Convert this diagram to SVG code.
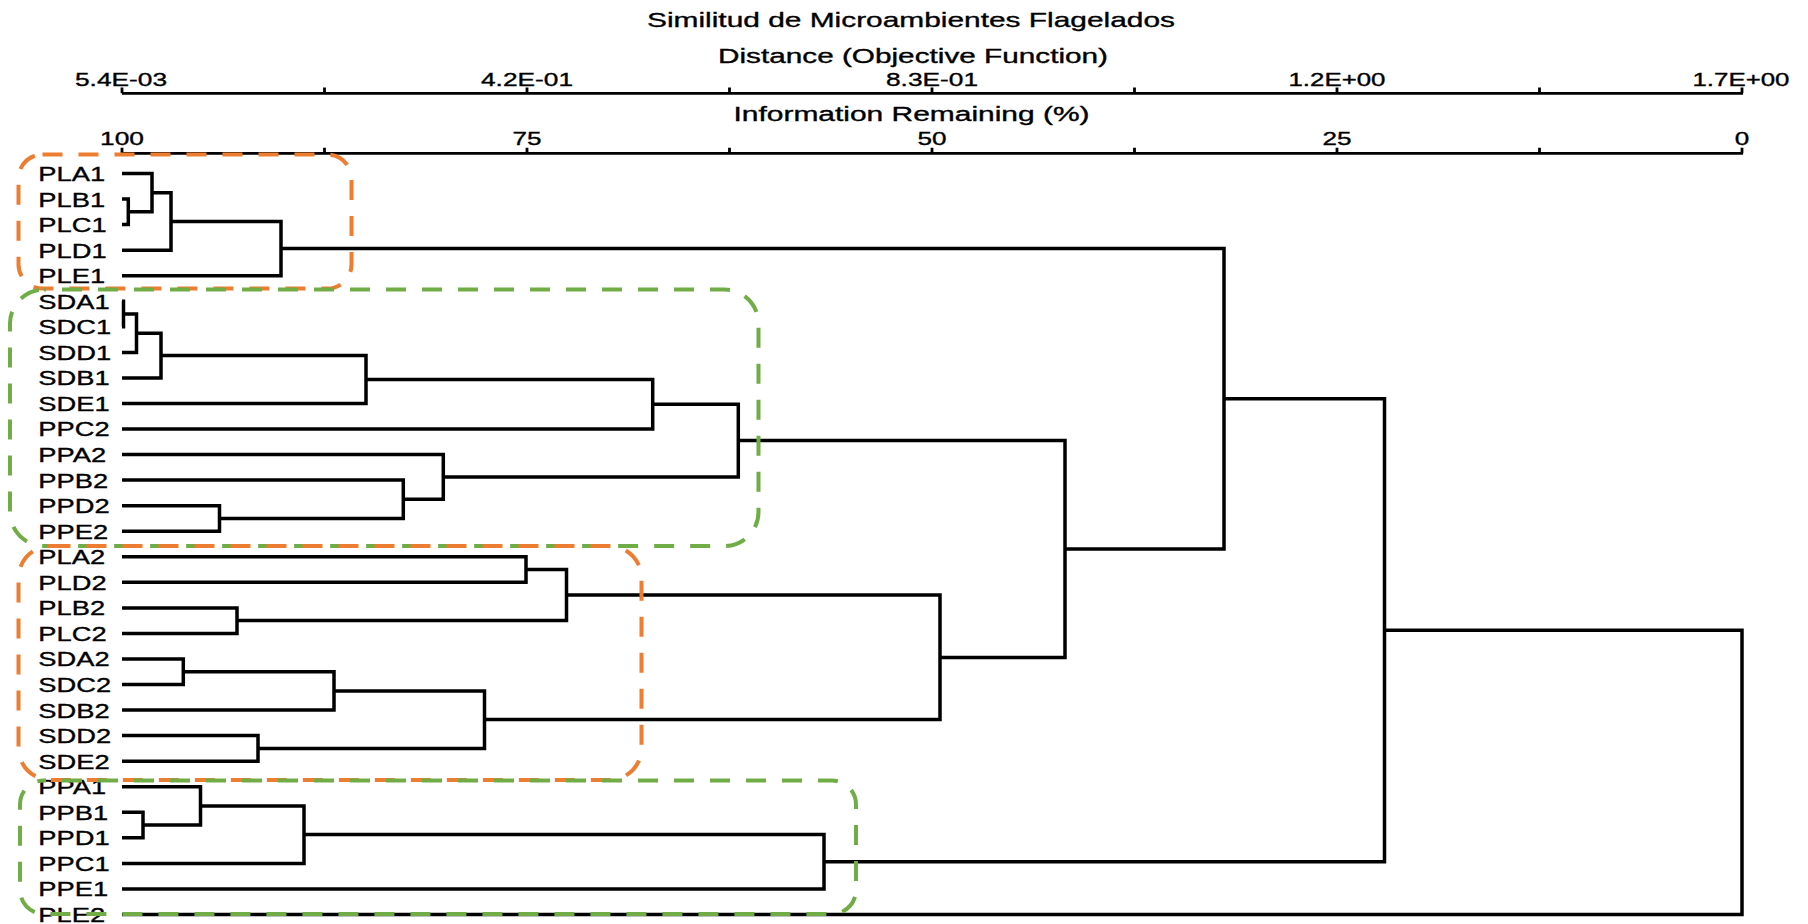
<svg xmlns="http://www.w3.org/2000/svg" width="1808" height="924" viewBox="0 0 1808 924">
<style>
text{font-family:"Liberation Sans",Arial,sans-serif;fill:#000;stroke:#000;stroke-width:0.35}
.title{font-size:21px}
.axt{font-size:20px}
.tl{font-size:19px}
.leaf{font-size:21px}
.ax{fill:none;stroke:#000;stroke-width:2.8}
.br{fill:none;stroke:#000;stroke-width:3.5;stroke-linejoin:miter}
.box{fill:none;stroke-width:4;stroke-dasharray:20 16}
.or{stroke:#ED7D31}
.gr{stroke:#70AD47}
</style>
<rect width="1808" height="924" fill="#fff"/>
<g id="titles">
<text class="title" x="911" y="26.7" text-anchor="middle" textLength="528" lengthAdjust="spacingAndGlyphs">Similitud de Microambientes Flagelados</text>
<text class="axt" x="913" y="63.3" text-anchor="middle" textLength="390" lengthAdjust="spacingAndGlyphs">Distance (Objective Function)</text>
<text class="axt" x="911.5" y="120.5" text-anchor="middle" textLength="356" lengthAdjust="spacingAndGlyphs">Information Remaining (%)</text>
</g>
<g id="axes">
<path class="ax" d="M122 93.3 H1743 M122 93.3 V87.5 M324.5 93.3 V87.5 M527 93.3 V87.5 M729.5 93.3 V87.5 M932 93.3 V87.5 M1134.5 93.3 V87.5 M1337 93.3 V87.5 M1539.5 93.3 V87.5 M1742 93.3 V87.5"/>
<path class="ax" d="M122 153.4 H1743 M122 153.4 V147.8 M324.5 153.4 V147.8 M527 153.4 V147.8 M729.5 153.4 V147.8 M932 153.4 V147.8 M1134.5 153.4 V147.8 M1337 153.4 V147.8 M1539.5 153.4 V147.8 M1742 153.4 V147.8"/>
<text class="tl" x="121" y="86" text-anchor="middle" textLength="92" lengthAdjust="spacingAndGlyphs">5.4E-03</text>
<text class="tl" x="527" y="86" text-anchor="middle" textLength="92" lengthAdjust="spacingAndGlyphs">4.2E-01</text>
<text class="tl" x="932" y="86" text-anchor="middle" textLength="92" lengthAdjust="spacingAndGlyphs">8.3E-01</text>
<text class="tl" x="1337" y="86" text-anchor="middle" textLength="97" lengthAdjust="spacingAndGlyphs">1.2E+00</text>
<text class="tl" x="1741" y="86" text-anchor="middle" textLength="97" lengthAdjust="spacingAndGlyphs">1.7E+00</text>
<text class="tl" x="122" y="145" text-anchor="middle" textLength="44" lengthAdjust="spacingAndGlyphs">100</text>
<text class="tl" x="527" y="145" text-anchor="middle" textLength="29" lengthAdjust="spacingAndGlyphs">75</text>
<text class="tl" x="932" y="145" text-anchor="middle" textLength="29" lengthAdjust="spacingAndGlyphs">50</text>
<text class="tl" x="1337" y="145" text-anchor="middle" textLength="29" lengthAdjust="spacingAndGlyphs">25</text>
<text class="tl" x="1742" y="145" text-anchor="middle" textLength="14.5" lengthAdjust="spacingAndGlyphs">0</text>
</g>
<g id="leaves" transform="scale(1.3 1)">
<g id="PLA1"><text class="leaf" x="29.5" y="181">PLA1</text></g>
<g id="PLB1"><text class="leaf" x="29.5" y="206.6">PLB1</text></g>
<g id="PLC1"><text class="leaf" x="29.5" y="232.1">PLC1</text></g>
<g id="PLD1"><text class="leaf" x="29.5" y="257.7">PLD1</text></g>
<g id="PLE1"><text class="leaf" x="29.5" y="283.2">PLE1</text></g>
<g id="SDA1"><text class="leaf" x="29.5" y="308.8">SDA1</text></g>
<g id="SDC1"><text class="leaf" x="29.5" y="334.3">SDC1</text></g>
<g id="SDD1"><text class="leaf" x="29.5" y="359.9">SDD1</text></g>
<g id="SDB1"><text class="leaf" x="29.5" y="385.4">SDB1</text></g>
<g id="SDE1"><text class="leaf" x="29.5" y="411">SDE1</text></g>
<g id="PPC2"><text class="leaf" x="29.5" y="436.5">PPC2</text></g>
<g id="PPA2"><text class="leaf" x="29.5" y="462.1">PPA2</text></g>
<g id="PPB2"><text class="leaf" x="29.5" y="487.6">PPB2</text></g>
<g id="PPD2"><text class="leaf" x="29.5" y="513.2">PPD2</text></g>
<g id="PPE2"><text class="leaf" x="29.5" y="538.7">PPE2</text></g>
<g id="PLA2"><text class="leaf" x="29.5" y="564.3">PLA2</text></g>
<g id="PLD2"><text class="leaf" x="29.5" y="589.8">PLD2</text></g>
<g id="PLB2"><text class="leaf" x="29.5" y="615.4">PLB2</text></g>
<g id="PLC2"><text class="leaf" x="29.5" y="640.9">PLC2</text></g>
<g id="SDA2"><text class="leaf" x="29.5" y="666.5">SDA2</text></g>
<g id="SDC2"><text class="leaf" x="29.5" y="692">SDC2</text></g>
<g id="SDB2"><text class="leaf" x="29.5" y="717.6">SDB2</text></g>
<g id="SDD2"><text class="leaf" x="29.5" y="743.1">SDD2</text></g>
<g id="SDE2"><text class="leaf" x="29.5" y="768.7">SDE2</text></g>
<g id="PPA1"><text class="leaf" x="29.5" y="794.2">PPA1</text></g>
<g id="PPB1"><text class="leaf" x="29.5" y="819.8">PPB1</text></g>
<g id="PPD1"><text class="leaf" x="29.5" y="845.3">PPD1</text></g>
<g id="PPC1"><text class="leaf" x="29.5" y="870.9">PPC1</text></g>
<g id="PPE1"><text class="leaf" x="29.5" y="896.4">PPE1</text></g>
<g id="PLE2"><text class="leaf" x="29.5" y="922">PLE2</text></g>
</g>
<g id="connectors" class="br">
<path d="M122 199.1 H128.3 V224.6 H122"/>
<path d="M122 173.5 H152 V211.8 H128.3"/>
<path d="M152 192.7 H171 V250.2 H122"/>
<path d="M171 221.4 H281 V275.7 H122"/>
<path d="M122 301.3 H123.5 V326.8 H122"/>
<path d="M123.5 314 H136.5 V352.4 H122"/>
<path d="M136.5 333.2 H161 V377.9 H122"/>
<path d="M161 355.6 H366 V403.5 H122"/>
<path d="M366 379.5 H652.7 V429 H122"/>
<path d="M122 505.7 H219.5 V531.2 H122"/>
<path d="M122 480.1 H403.3 V518.4 H219.5"/>
<path d="M122 454.6 H443.3 V499.3 H403.3"/>
<path d="M652.7 404.3 H738.3 V476.9 H443.3"/>
<path d="M122 556.8 H526 V582.3 H122"/>
<path d="M122 607.9 H237 V633.4 H122"/>
<path d="M526 569.5 H566.5 V620.6 H237"/>
<path d="M122 659 H183.3 V684.5 H122"/>
<path d="M183.3 671.7 H334 V710.1 H122"/>
<path d="M122 735.6 H258 V761.2 H122"/>
<path d="M334 690.9 H484.5 V748.4 H258"/>
<path d="M566.5 595.1 H940 V719.6 H484.5"/>
<path d="M738.3 440.6 H1065 V657.4 H940"/>
<path d="M281 248.6 H1224 V549 H1065"/>
<path d="M122 812.3 H143 V837.8 H122"/>
<path d="M122 786.7 H200.5 V825 H143"/>
<path d="M200.5 805.9 H304 V863.4 H122"/>
<path d="M304 834.6 H824 V888.9 H122"/>
<path d="M1224 398.8 H1384.5 V861.8 H824"/>
<path d="M1384.5 630.3 H1742 V914.5 H122"/>
</g>
<g id="groups">
<rect id="box-PL1" class="box or" x="18.5" y="154.5" width="333" height="134" rx="24"/>
<rect id="box-SD1PP2" class="box gr" x="10" y="289.5" width="748.5" height="256.5" rx="34" stroke-dashoffset="18"/>
<rect id="box-PL2SD2" class="box or" x="18.5" y="546" width="623" height="234" rx="32"/>
<rect id="box-PP1" class="box gr" x="20" y="780.5" width="836" height="133.5" rx="24" stroke-dashoffset="18"/>
</g>
</svg>
